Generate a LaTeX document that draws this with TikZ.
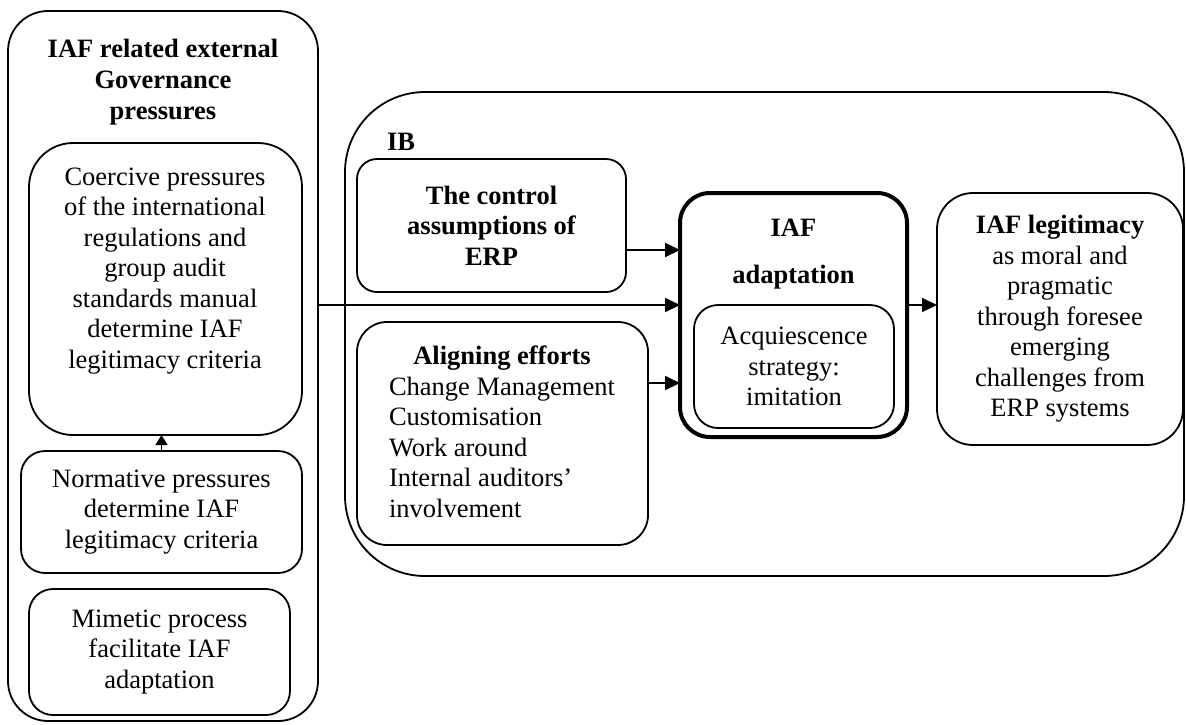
\documentclass[tikz,border=0pt]{standalone}
\usepackage{fontspec}
\setmainfont{Liberation Serif}
\usetikzlibrary{arrows.meta}
\begin{document}
\begin{tikzpicture}[x=1pt,y=-1pt,
  every node/.style={font=\fontsize{26.5}{30.5}\selectfont, inner sep=0pt, outer sep=0pt},
  box/.style={draw, line width=1.8pt, rectangle},
  txt/.style={align=center},
  arr/.style={line width=2pt, -{Triangle[length=15pt,width=14pt]}},
  sarr/.style={line width=1.6pt, -{Triangle[length=10pt,width=12pt]}}]
\useasboundingbox (0,0) rectangle (1186,724);

% left column
\node[box, rounded corners=40pt, minimum width=310pt, minimum height=710pt] (outer) at (163,366) {};
\node[txt, font=\fontsize{26.5}{31}\selectfont\bfseries] (outtitle) at (163,82) {IAF related external\\Governance\\pressures};
\node[box, rounded corners=44pt, minimum width=273pt, minimum height=292pt] (coer) at (165.5,289) {};
\node[txt] (coertext) at (165,271) {Coercive pressures\\of the international\\regulations and\\group audit\\standards manual\\determine IAF\\legitimacy criteria};
\node[box, rounded corners=24pt, minimum width=281pt, minimum height=122pt, txt] (norm) at (161.5,512) {Normative pressures\\determine IAF\\legitimacy criteria};
\node[box, rounded corners=24pt, minimum width=261pt, minimum height=126pt, txt] (mim) at (159.5,652) {Mimetic process\\facilitate IAF\\adaptation};
\draw[sarr] (norm.north) -- (norm.north |- coer.south);

% IB group
\node[box, rounded corners=80pt, minimum width=839pt, minimum height=484pt] (ib) at (764.5,334) {};
\node[font=\fontsize{26.5}{30.5}\selectfont\bfseries] (iblabel) at (401,142) {IB};
\node[box, rounded corners=20pt, minimum width=269pt, minimum height=133pt, txt, font=\fontsize{26.5}{30.5}\selectfont\bfseries] (ctrl) at (491.5,225.5) {The control\\assumptions of\\ERP};
\node[box, rounded corners=30pt, minimum width=291pt, minimum height=223pt] (alig) at (502.5,433.5) {};
\node (aligtext) at (502,435) {\begin{tabular}{@{}l@{}}\multicolumn{1}{@{}c@{}}{\bfseries Aligning efforts}\\Change Management\\Customisation\\Work around\\Internal auditors'\\involvement\end{tabular}};

% adaptation
\node[draw, line width=4pt, rounded corners=30pt, minimum width=227pt, minimum height=244pt] (adapt) at (793.5,315) {};
\node[txt, font=\fontsize{26.5}{30.5}\selectfont\bfseries] (adapttitle) at (793.5,254) {IAF\\[16pt]adaptation};
\node[box, rounded corners=24pt, minimum width=200pt, minimum height=123pt, txt] (acq) at (794,366.5) {Acquiescence\\strategy:\\imitation};

% legitimacy
\node[box, rounded corners=36pt, minimum width=246pt, minimum height=252pt, txt] (legit) at (1060,319) {\textbf{IAF legitimacy}\\as moral and\\pragmatic\\through foresee\\emerging\\challenges from\\ERP systems};

% connectors
\coordinate (ymain) at (0,305);
\coordinate (yctrl) at (0,250);
\coordinate (yalig) at (0,383);
\draw[arr] (outer.east |- ymain) -- (adapt.west |- ymain);
\draw[arr] (ctrl.east |- yctrl) -- (adapt.west |- yctrl);
\draw[arr] (alig.east |- yalig) -- (adapt.west |- yalig);
\draw[arr] (adapt.east |- ymain) -- (legit.west |- ymain);
\end{tikzpicture}
\end{document}
